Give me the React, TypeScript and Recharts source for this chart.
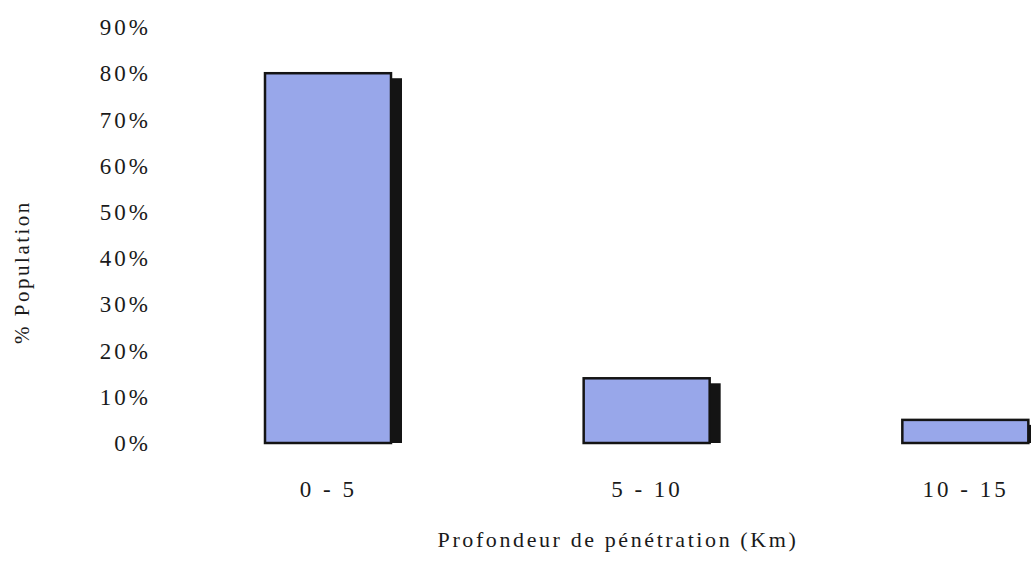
import React from 'react';
import { BarChart, Bar, XAxis, YAxis, Label } from 'recharts';

// tranches de profondeur et part de la population
const categories = ['0 - 5', '5 - 10', '10 - 15'];
const populationShare = [0.8, 0.14, 0.05];
const yTicks = [0, 0.1, 0.2, 0.3, 0.4, 0.5, 0.6, 0.7, 0.8, 0.9];

const data = categories.map((name, i) => ({ name, value: populationShare[i] }));

const FONT = '"Liberation Serif", "Times New Roman", serif';

// barre avec ombre noire à droite
const ShadowBar = (props: any) => {
    const { x, y, width, height } = props;
    if (!height) return null;
    return (
        <g>
            <rect x={x + width} y={y + 5} width={11} height={height - 5} fill="#141414" />
            <rect x={x} y={y} width={width} height={height} fill="#98a7ea" stroke="#141414" strokeWidth={2.5} />
        </g>
    );
};

const App: React.FC = () => {
    return (
        <div style={{ position: 'absolute', left: 0, top: 0, width: 1031, height: 562, overflow: 'hidden', background: '#fff' }}>
            <BarChart width={1125} height={562} data={data} margin={{ top: 27, right: 0, bottom: 0, left: 0 }}>
                <XAxis
                    dataKey="name"
                    height={119}
                    axisLine={false}
                    tickLine={false}
                    tickMargin={32}
                    tick={{ fill: '#1a1a1a', fontSize: 23, fontFamily: FONT, letterSpacing: 3 }}
                >
                    <Label
                        content={({ viewBox }: any) => (
                            <text
                                x={viewBox.x + viewBox.width / 2 - 29}
                                y={viewBox.y + 104}
                                textAnchor="middle"
                                fill="#1a1a1a"
                                fontSize={22}
                                fontFamily={FONT}
                                letterSpacing={2.6}
                            >
                                Profondeur de pénétration (Km)
                            </text>
                        )}
                    />
                </XAxis>
                <YAxis
                    width={169}
                    domain={[0, 0.9]}
                    ticks={yTicks}
                    axisLine={false}
                    tickLine={false}
                    tickMargin={12}
                    tickFormatter={(v: number) => `${Math.round(v * 100)}%`}
                    tick={{ fill: '#1a1a1a', fontSize: 23, fontFamily: FONT, letterSpacing: 3 }}
                >
                    <Label
                        content={({ viewBox }: any) => {
                            const cx = viewBox.x + 29;
                            const cy = viewBox.y + viewBox.height / 2 + 37;
                            return (
                                <text
                                    x={cx}
                                    y={cy}
                                    transform={`rotate(-90, ${cx}, ${cy})`}
                                    textAnchor="middle"
                                    fill="#1a1a1a"
                                    fontSize={21}
                                    fontFamily={FONT}
                                    letterSpacing={2.5}
                                >
                                    % Population
                                </text>
                            );
                        }}
                    />
                </YAxis>
                <Bar dataKey="value" barSize={126} shape={<ShadowBar />} isAnimationActive={false} />
            </BarChart>
        </div>
    );
};

export default App;
